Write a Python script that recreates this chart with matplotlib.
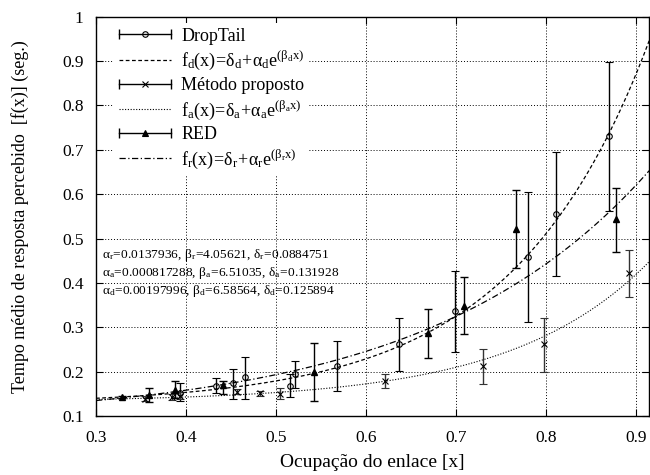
import numpy as np
import matplotlib
matplotlib.use("Agg")
import matplotlib.pyplot as plt
from matplotlib.lines import Line2D
from matplotlib.legend_handler import HandlerBase

plt.rcParams['font.family'] = ['Liberation Serif', 'DejaVu Serif']
plt.rcParams['mathtext.fontset'] = 'custom'
plt.rcParams['mathtext.rm'] = 'Liberation Serif'
plt.rcParams['mathtext.it'] = 'Liberation Serif:italic'

# DropTail (circles)
dt_x = [0.393, 0.433, 0.452, 0.466, 0.516, 0.521, 0.568, 0.637, 0.699, 0.780, 0.811, 0.870]
dt_y = [0.152, 0.168, 0.174, 0.187, 0.168, 0.194, 0.213, 0.262, 0.337, 0.459, 0.555, 0.730]
dt_lo = [0.133, 0.152, 0.138, 0.139, 0.142, 0.163, 0.157, 0.202, 0.245, 0.313, 0.416, 0.561]
dt_hi = [0.174, 0.185, 0.206, 0.234, 0.194, 0.225, 0.269, 0.320, 0.428, 0.605, 0.694, 0.898]

# Metodo proposto (crosses)
mp_x = [0.354, 0.385, 0.393, 0.457, 0.482, 0.505, 0.621, 0.730, 0.798, 0.893]
mp_y = [0.139, 0.143, 0.146, 0.155, 0.152, 0.150, 0.179, 0.213, 0.263, 0.422]
mp_lo = [0.134, 0.136, 0.138, 0.149, 0.146, 0.139, 0.163, 0.173, 0.200, 0.369]
mp_hi = [0.145, 0.150, 0.154, 0.161, 0.157, 0.163, 0.194, 0.251, 0.322, 0.474]

# RED (triangles)
red_x = [0.3285, 0.359, 0.388, 0.441, 0.542, 0.669, 0.709, 0.767, 0.878]
red_y = [0.143, 0.148, 0.159, 0.169, 0.200, 0.287, 0.349, 0.521, 0.544]
red_lo = [0.140, 0.131, 0.140, 0.149, 0.133, 0.230, 0.284, 0.433, 0.470]
red_hi = [0.146, 0.163, 0.179, 0.180, 0.264, 0.341, 0.414, 0.609, 0.615]

# fitted parameters (alpha, beta, delta)
fit_r = (0.0137936, 4.05621, 0.0884751)
fit_a = (0.000817288, 6.51035, 0.131928)
fit_d = (0.00197996, 6.58564, 0.125894)

xticks = [0.3, 0.4, 0.5, 0.6, 0.7, 0.8, 0.9]
yticks = [0.1, 0.2, 0.3, 0.4, 0.5, 0.6, 0.7, 0.8, 0.9, 1.0]
ytick_labels = ["0.1", "0.2", "0.3", "0.4", "0.5", "0.6", "0.7", "0.8", "0.9", "1"]


def f(x, p):
    a, b, d = p
    return d + a * np.exp(b * x)


class ErrHandler(HandlerBase):
    def __init__(self, marker, mfc):
        super().__init__()
        self.marker = marker
        self.mfc = mfc

    def create_artists(self, legend, orig_handle, xdescent, ydescent,
                       width, height, fontsize, trans):
        y = height / 2 - ydescent
        x0, x1 = -xdescent, width - xdescent
        line = Line2D([x0, x1], [y, y], color='k', lw=1.0, transform=trans)
        caps = Line2D([x0, x1], [y, y], ls='none', marker='|', ms=7,
                      mew=1.0, color='k', transform=trans)
        mk = Line2D([(x0 + x1) / 2], [y], ls='none', marker=self.marker, ms=4,
                    mfc=self.mfc, mec='k', mew=0.8, transform=trans)
        return [line, caps, mk]


fig = plt.figure(figsize=(6.5, 4.75), dpi=100)
ax = fig.add_axes([0.1477, 0.124, 0.851, 0.841])

xs = np.linspace(0.3, 0.915, 300)

def err(y, lo, hi):
    y = np.array(y)
    return [y - np.array(lo), np.array(hi) - y]

ax.errorbar(dt_x, dt_y, yerr=err(dt_y, dt_lo, dt_hi), fmt='o', ms=4, mfc='none',
            mec='k', mew=0.8, ecolor='k', elinewidth=1.0, capsize=3, capthick=1.0, zorder=3)
ax.plot(xs, f(xs, fit_d), color='k', ls=(0, (3, 2)), lw=0.9)
ax.errorbar(mp_x, mp_y, yerr=err(mp_y, mp_lo, mp_hi), fmt='x', ms=5,
            mec='k', mew=0.8, ecolor='#333333', elinewidth=1.0, capsize=3, capthick=1.0, zorder=3)
ax.plot(xs, f(xs, fit_a), color='k', ls=(0, (1, 1.5)), lw=0.8)
ax.errorbar(red_x, red_y, yerr=err(red_y, red_lo, red_hi), fmt='^', ms=4, mfc='k',
            mec='k', ecolor='k', elinewidth=1.0, capsize=3, capthick=1.0, zorder=3)
ax.plot(xs, f(xs, fit_r), color='k', ls=(0, (5, 2, 1, 2)), lw=0.9)

h1, h3, h5 = Line2D([], []), Line2D([], []), Line2D([], [])
h2 = Line2D([], [], color='k', ls=(0, (3, 2)), lw=0.9)
h4 = Line2D([], [], color='k', ls=(0, (1, 1.5)), lw=0.8)
h6 = Line2D([], [], color='k', ls=(0, (5, 2, 1, 2)), lw=0.9)
labels = [
    "DropTail",
    r"$\mathrm{f_d(x)\!=\!\delta_d\!+\!\alpha_d e^{(\beta_d x)}}$",
    "Método proposto",
    r"$\mathrm{f_a(x)\!=\!\delta_a\!+\!\alpha_a e^{(\beta_a x)}}$",
    "RED",
    r"$\mathrm{f_r(x)\!=\!\delta_r\!+\!\alpha_r e^{(\beta_r x)}}$",
]
leg = ax.legend([h1, h2, h3, h4, h5, h6], labels, loc='upper left',
                bbox_to_anchor=(0.0072, 1.02), fontsize=13, frameon=True,
                framealpha=1.0, edgecolor='none', fancybox=False,
                handlelength=2.9, handletextpad=0.55, labelspacing=0.25,
                borderpad=0.25, borderaxespad=0.8,
                handler_map={h1: ErrHandler('o', 'none'),
                             h3: ErrHandler('x', 'none'),
                             h5: ErrHandler('^', 'k')})
leg.set_zorder(5)

ann = [
    r"$\mathrm{\alpha_r\!=\!0.0137936,\,\beta_r\!=\!4.05621,\,\delta_r\!=\!0.0884751}$",
    r"$\mathrm{\alpha_a\!=\!0.000817288,\,\beta_a\!=\!6.51035,\,\delta_a\!=\!0.131928}$",
    r"$\mathrm{\alpha_d\!=\!0.00197996,\,\beta_d\!=\!6.58564,\,\delta_d\!=\!0.125894}$",
]
for i, t in enumerate(ann):
    ax.text(0.307, 0.462 - i * 0.04, t, fontsize=9.6, va='center', ha='left', zorder=4)

ax.set_xlim(0.3, 0.915)
ax.set_ylim(0.1, 1.0)
ax.set_xticks(xticks)
ax.set_xticklabels([f"{v:.1f}" for v in xticks])
ax.set_yticks(yticks)
ax.set_yticklabels(ytick_labels)
ax.tick_params(direction='in', top=True, right=True, length=5, labelsize=12.5)
ax.tick_params(axis='x', pad=10)
ax.tick_params(axis='y', pad=9)
ax.grid(True, color='k', ls=(0, (1, 2)), lw=0.7)
ax.set_axisbelow(True)
for s in ax.spines.values():
    s.set_linewidth(1.0)

ax.set_xlabel("Ocupação do enlace [x]", fontsize=14, labelpad=6)
ax.set_ylabel("Tempo médio de resposta percebido  [f(x)] (seg.)", fontsize=13, labelpad=24)

fig.savefig("out.png", dpi=100)
